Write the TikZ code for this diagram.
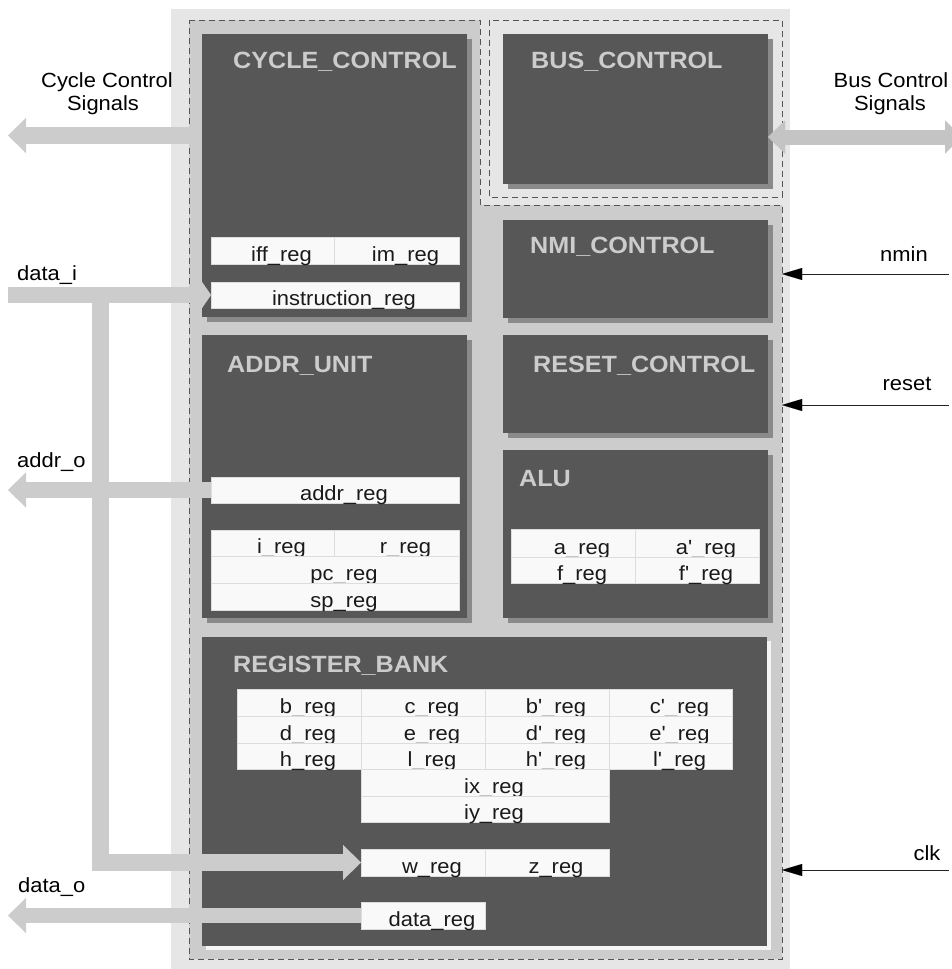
\documentclass[tikz,border=0pt]{standalone}
\usepackage{fontspec}
\setmainfont{Liberation Sans}[FakeStretch=1.07,Ligatures=TeXOff]
\usetikzlibrary{arrows.meta,shadows}
\definecolor{outergray}{HTML}{E6E6E6}
\definecolor{midgray}{HTML}{CCCCCC}
\definecolor{darkblk}{HTML}{575757}
\definecolor{shadowgray}{HTML}{8A8A8A}
\definecolor{cellfill}{HTML}{F9F9F9}
\definecolor{cellline}{HTML}{DDDDDD}
\definecolor{busarrow}{HTML}{C4C4C4}
\definecolor{dashcol}{HTML}{555555}
\definecolor{txtcol}{HTML}{1A1A1A}
\definecolor{wireline}{HTML}{222222}
\newcommand\regc[6]{%
 \pgfmathsetmacro\rcw{#4-#2}\pgfmathsetmacro\rch{#5-#3}\pgfmathsetmacro\rcth{#5-#3-3}%
 \node[regcell, minimum width=\rcw pt, minimum height=\rch pt, text height=\rcth pt] (#1) at ({(#2+#4)/2},{(#3+#5)/2}) {\hspace*{18pt}#6};}
\tikzset{
 darkbox/.style={fill=darkblk, inner sep=0pt, outer sep=0pt, anchor=north west,
   drop shadow={shadow xshift=5pt, shadow yshift=-5pt, fill=shadowgray, opacity=1}},
 lightshadowbox/.style={fill=darkblk, inner sep=0pt, outer sep=0pt, anchor=north west,
   drop shadow={shadow xshift=4pt, shadow yshift=-4pt, fill=white!96!black, opacity=1}},
 blocktitle/.style={font=\bfseries\fontsize{23.5pt}{23.5pt}\selectfont, text=midgray, anchor=base west, inner sep=0pt},
 regcell/.style={fill=cellfill, draw=cellline, line width=0.8pt, inner sep=0pt, outer sep=0pt,
   text depth=3pt, text=txtcol, font=\fontsize{20.5pt}{20.5pt}\selectfont},
 siglabel/.style={font=\fontsize{20.5pt}{20.5pt}\selectfont, text=black, inner sep=0pt},
 dashline/.style={draw=dashcol, line width=0.8pt, dash pattern=on 6pt off 4pt},
 fatarrow/.style={draw=midgray, line width=17pt, line join=miter,
   -{Triangle[width=35pt,length=18pt,line width=0.01pt]}},
 smallhead/.style={draw=midgray, line width=16pt,
   -{Triangle[width=26pt,length=9pt,line width=0.01pt]}},
 busdouble/.style={draw=busarrow, line width=15pt,
   {Triangle[width=33pt,length=17pt,line width=0.01pt]}-{Triangle[width=33pt,length=17pt,line width=0.01pt]}},
 inarrow/.style={draw=wireline, line width=1pt, -{Triangle[width=12pt,length=20pt,line width=0.01pt,fill=black,color=black]}}
}
\begin{document}
\begin{tikzpicture}[x=1pt,y=-1pt]
\useasboundingbox (0,0) rectangle (952,969);
% background frames
\fill[outergray] (171,9) rectangle (790,969);
\draw[dashline, fill=midgray] (189,20) -- (480,20) -- (480,205) -- (782,205) -- (782,959) -- (189,959) -- cycle;
\draw[dashline, fill=outergray] (489,20) rectangle (782,197);
% blocks
\node[darkbox, minimum width=265pt, minimum height=283pt] (cc) at (202,34) {};
\node[darkbox, minimum width=265pt, minimum height=150pt] (bus) at (503,34) {};
\node[darkbox, minimum width=265pt, minimum height=98pt] (nmi) at (503,220) {};
\node[darkbox, minimum width=265pt, minimum height=98pt] (rst) at (503,335) {};
\node[darkbox, minimum width=265pt, minimum height=168pt] (alu) at (503,450) {};
\node[darkbox, minimum width=265pt, minimum height=283pt] (au) at (202,335) {};
\node[lightshadowbox, minimum width=565pt, minimum height=309pt] (rb) at (202,637) {};
% titles
\node[blocktitle] (cct) at (233,68) {CYCLE\_CONTROL};
\node[blocktitle] (bust) at (531,68) {BUS\_CONTROL};
\node[blocktitle] (nmit) at (530,253) {NMI\_CONTROL};
\node[blocktitle] (rstt) at (533,372) {RESET\_CONTROL};
\node[blocktitle] (alut) at (519,486) {ALU};
\node[blocktitle] (aut) at (227,372) {ADDR\_UNIT};
\node[blocktitle] (rbt) at (233,672) {REGISTER\_BANK};
% registers
\regc{iff}{211}{237}{334}{264}{iff\_reg}
\regc{im}{334}{237}{459}{264}{im\_reg}
\regc{instr}{211}{282}{459}{308}{instruction\_reg}
\regc{addrreg}{211}{477}{459}{503}{addr\_reg}
\regc{ireg}{211}{530}{334}{556}{i\_reg}
\regc{rreg}{334}{530}{459}{556}{r\_reg}
\regc{pcreg}{211}{556}{459}{583}{pc\_reg}
\regc{spreg}{211}{583}{459}{610}{sp\_reg}
\regc{areg}{511}{529}{635}{557}{a\_reg}
\regc{apreg}{635}{529}{759}{557}{a'\_reg}
\regc{freg}{511}{557}{635}{583}{f\_reg}
\regc{fpreg}{635}{557}{759}{583}{f'\_reg}
\regc{breg}{237}{689}{361}{716}{b\_reg}
\regc{creg}{361}{689}{485}{716}{c\_reg}
\regc{bpreg}{485}{689}{609}{716}{b'\_reg}
\regc{cpreg}{609}{689}{732}{716}{c'\_reg}
\regc{dreg}{237}{716}{361}{743}{d\_reg}
\regc{ereg}{361}{716}{485}{743}{e\_reg}
\regc{dpreg}{485}{716}{609}{743}{d'\_reg}
\regc{epreg}{609}{716}{732}{743}{e'\_reg}
\regc{hreg}{237}{743}{361}{769}{h\_reg}
\regc{lreg}{361}{743}{485}{769}{l\_reg}
\regc{hpreg}{485}{743}{609}{769}{h'\_reg}
\regc{lpreg}{609}{743}{732}{769}{l'\_reg}
\regc{ixreg}{361}{769}{609}{796}{ix\_reg}
\regc{iyreg}{361}{796}{609}{822}{iy\_reg}
\regc{wreg}{361}{849}{485}{876}{w\_reg}
\regc{zreg}{485}{849}{609}{876}{z\_reg}
\regc{datareg}{361}{902}{485}{929}{data\_reg}
% external points
\coordinate (ccsig) at (8,135.5);
\coordinate (bussig) at (962,137);
\coordinate (dinsrc) at (8,295);
\coordinate (branch) at (100.5,295);
\coordinate (bend) at (100.5,862.5);
\coordinate (addrout) at (8,490);
\coordinate (dataout) at (8,915.5);
\coordinate (nminsrc) at (949,274);
\coordinate (nmintip) at (782,274);
\coordinate (rstsrc) at (949,405);
\coordinate (rsttip) at (782,405);
\coordinate (clksrc) at (949,870);
\coordinate (clktip) at (782,870);
% fat arrows
\draw[fatarrow] (cc.west |- ccsig) -- (ccsig);
\draw[busdouble] (bus.east |- bussig) -- (bussig);
\draw[fatarrow] (branch) -- (bend) -- (wreg.west);
\draw[smallhead] (dinsrc) -- (instr.west);
\draw[fatarrow, line width=16pt] (addrreg.west) -- (addrout);
\draw[fatarrow, line width=15pt] (datareg.west) -- (dataout);
% input wires
\draw[inarrow] (nminsrc) -- (nmintip);
\draw[inarrow] (rstsrc) -- (rsttip);
\draw[inarrow] (clksrc) -- (clktip);
% labels
\node[siglabel, anchor=base] (cclab1) at (107,87.3) {Cycle Control};
\node[siglabel, anchor=base] (cclab2) at (103,110.7) {Signals};
\node[siglabel, anchor=base] (buslab1) at (891,87.3) {Bus Control};
\node[siglabel, anchor=base] (buslab2) at (890,110.7) {Signals};
\node[siglabel, anchor=base west] (dilab) at (17,280) {data\_i};
\node[siglabel, anchor=base west] (aolab) at (17,467) {addr\_o};
\node[siglabel, anchor=base west] (dolab) at (18,892) {data\_o};
\node[siglabel, anchor=base] (nminlab) at (904,261) {nmin};
\node[siglabel, anchor=base] (rstlab) at (907,390) {reset};
\node[siglabel, anchor=base] (clklab) at (927,860) {clk};
\end{tikzpicture}
\end{document}
